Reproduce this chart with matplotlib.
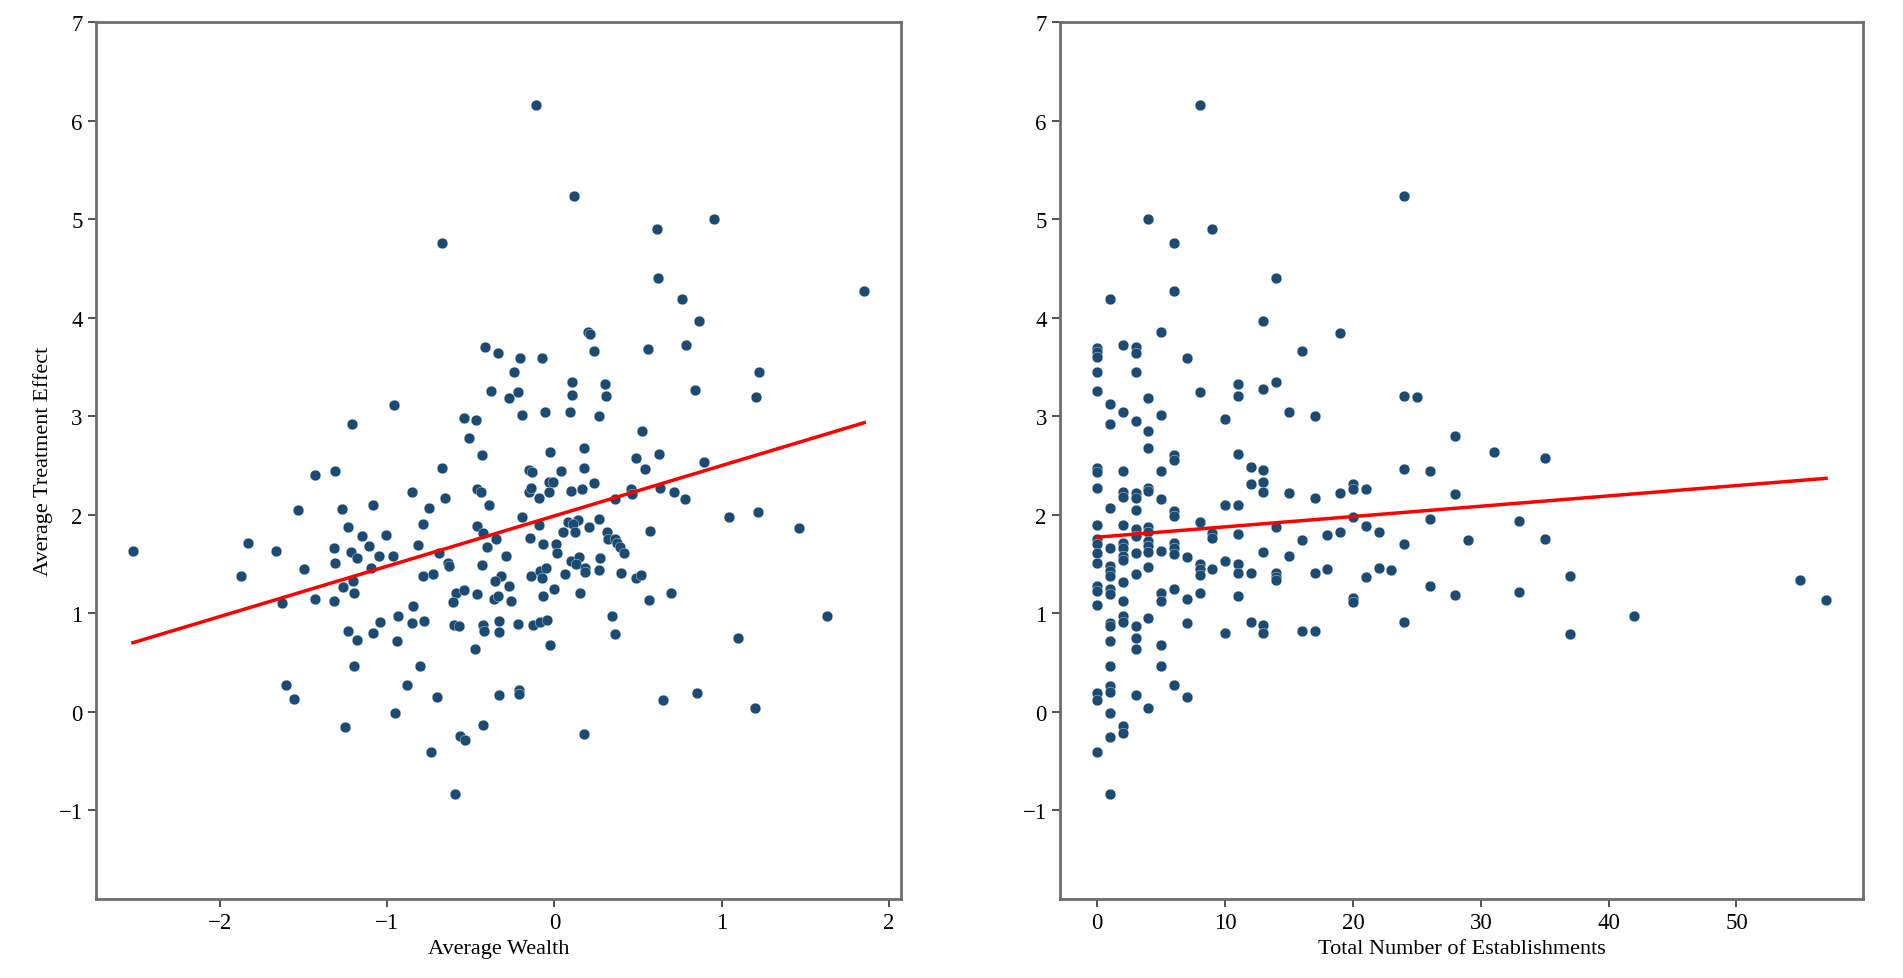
import numpy as np
import matplotlib
matplotlib.use("Agg")
import matplotlib.pyplot as plt

plt.rcParams['font.family'] = ['Liberation Serif', 'DejaVu Serif']

# ---- left panel: average wealth vs ATE ----
wealth = [-0.672, -0.417, -0.337, -0.377, -0.269, -0.219, -0.956, -1.209, -0.540, -0.469,
          -0.508, -0.433, -0.113, 0.114, 0.611, 0.954, 0.619, 0.761, 0.861, 1.851,
          0.200, 0.215, 0.238, 0.559, 0.785, -0.207, -0.076, -0.239, 0.104, 0.104,
          0.302, 0.310, -0.191, -0.056, 0.090, 0.266, 0.837, 1.222, 1.206, 0.523,
          -0.026, 0.174, 0.487, 0.623, -0.150, -0.137, 0.040, 0.176, 0.539, 0.891,
          -0.034, -0.010, 0.236, -0.153, -0.139, -0.093, -0.034, 0.100, 0.164, 0.360,
          0.459, 0.465, 0.629, 0.717, 0.779, -0.193, -0.093, 0.080, 0.140, 0.110,
          0.050, 0.120, 0.206, 0.266, 0.569, 1.044, 1.214, 1.461, -0.149, -0.066,
          0.010, 0.014, 0.316, 0.320, 0.360, 0.374, 0.390, 0.416, -0.289, 0.100,
          0.146, 0.126, 0.180, 0.184, 0.270, 0.264, -0.319, -0.273, -0.259, -0.139,
          -0.089, -0.050, -0.074, 0.060, 0.000, -0.070, 0.154, 0.400, 0.489, 0.519,
          0.563, 0.699, -0.219, -0.129, -0.085, -0.044, -0.024, 0.344, 0.364, 1.631,
          1.094, -0.213, -0.213, 0.649, 0.849, 1.198, 0.178,
          -1.433, -1.309, -0.672, -0.656, -0.852, -0.465, -0.439, -0.389, -1.530, -1.269,
          -1.085, -0.748, -0.788, -1.235, -1.832, -1.666, -1.153, -1.008, -1.111, -1.317,
          -0.818, -0.465, -0.429, -0.349, -0.403, -1.213, -1.177, -1.047, -0.964, -0.688,
          -1.313, -1.097, -1.497, -1.876, -0.638, -0.628, -0.433, -0.788, -0.728, -0.353,
          -1.263, -1.203, -1.197, -1.626, -1.433, -1.317, -0.588, -0.539, -0.608, -0.463,
          -0.359, -0.339, -0.844, -0.932, -1.043, -0.852, -0.778, -1.235, -1.177, -1.083,
          -0.938, -0.598, -0.568, -0.429, -0.419, -0.329, -0.329, -0.475, -1.197, -0.804,
          -1.606, -1.556, -0.882, -0.704, -0.329, -0.950, -1.249, -0.429, -0.562, -0.533,
          -0.738, -0.592, -2.519]
ate_wealth = [4.76, 3.70, 3.64, 3.26, 3.18, 3.25, 3.11, 2.92, 2.98, 2.96,
              2.78, 2.61, 6.16, 5.23, 4.90, 5.00, 4.40, 4.19, 3.97, 4.27,
              3.85, 3.83, 3.66, 3.68, 3.72, 3.59, 3.59, 3.45, 3.35, 3.21,
              3.33, 3.20, 3.01, 3.04, 3.04, 3.00, 3.27, 3.45, 3.19, 2.85,
              2.64, 2.68, 2.58, 2.62, 2.45, 2.43, 2.44, 2.47, 2.46, 2.53,
              2.33, 2.33, 2.32, 2.23, 2.27, 2.17, 2.23, 2.24, 2.26, 2.16,
              2.26, 2.21, 2.27, 2.23, 2.16, 1.98, 1.90, 1.93, 1.95, 1.91,
              1.82, 1.82, 1.88, 1.96, 1.83, 1.98, 2.03, 1.86, 1.76, 1.705,
              1.705, 1.61, 1.82, 1.755, 1.75, 1.71, 1.675, 1.61, 1.58, 1.53,
              1.57, 1.50, 1.46, 1.42, 1.56, 1.44, 1.376, 1.275, 1.12, 1.376,
              1.427, 1.46, 1.36, 1.40, 1.25, 1.17, 1.21, 1.41, 1.36, 1.39,
              1.13, 1.21, 0.892, 0.885, 0.91, 0.93, 0.675, 0.973, 0.787, 0.976,
              0.753, 0.225, 0.18, 0.116, 0.19, 0.038, -0.226,
              2.40, 2.44, 2.47, 2.165, 2.23, 2.257, 2.233, 2.10, 2.05, 2.06,
              2.10, 2.07, 1.91, 1.88, 1.715, 1.63, 1.78, 1.79, 1.68, 1.664,
              1.695, 1.884, 1.816, 1.75, 1.67, 1.62, 1.56, 1.58, 1.58, 1.61,
              1.505, 1.46, 1.444, 1.376, 1.51, 1.48, 1.485, 1.376, 1.403, 1.325,
              1.27, 1.325, 1.21, 1.105, 1.14, 1.12, 1.207, 1.24, 1.11, 1.20,
              1.145, 1.17, 1.07, 0.97, 0.91, 0.90, 0.92, 0.817, 0.726, 0.80,
              0.715, 0.88, 0.87, 0.885, 0.817, 0.92, 0.81, 0.641, 0.468, 0.468,
              0.268, 0.13, 0.272, 0.15, 0.17, -0.013, -0.158, -0.135, -0.25, -0.29,
              -0.409, -0.836, 1.63]
fit_wealth = (0.511, 1.988)   # slope, intercept

# ---- right panel: establishments vs ATE ----
estab = [8, 24, 4, 9, 6, 14, 6, 1, 13, 19, 5, 16, 0, 0, 0, 2, 3, 3, 7, 0,
         3, 0, 4, 8, 11, 11, 13, 14, 24, 25, 1, 2, 1, 3, 5, 10, 15, 17, 4, 28,
         4, 6, 6, 11, 0, 0, 2, 5, 12, 13, 24, 26, 0, 2, 2, 3, 3, 3, 4, 4,
         5, 12, 13, 13, 15, 17, 19, 20, 20, 21, 28, 1, 6, 6, 10, 11, 0, 2, 3, 3,
         4, 4, 8, 9, 9, 11, 14, 20, 21, 22, 26, 16, 18, 19, 24, 29, 0, 0, 0, 1,
         2, 2, 2, 2, 3, 4, 4, 4, 5, 6, 6, 6, 7, 13, 15, 0, 1, 1, 1, 2,
         3, 4, 8, 8, 8, 9, 10, 11, 11, 12, 14, 14, 14, 17, 18, 21, 22, 23, 26, 28,
         0, 0, 0, 1, 1, 2, 5, 5, 6, 7, 8, 11, 20, 20, 1, 1, 2, 2, 3, 4,
         7, 10, 12, 13, 13, 16, 17, 24, 1, 3, 3, 5, 1, 5, 6, 0, 0, 1, 1, 3,
         7, 1, 4, 2, 2, 1, 0, 1,
         31, 35, 33, 35, 37, 33, 42, 37, 55, 57]
ate_estab = [6.16, 5.23, 5.00, 4.90, 4.76, 4.40, 4.27, 4.19, 3.97, 3.84, 3.85, 3.66, 3.69, 3.65, 3.60, 3.72, 3.70, 3.64, 3.59, 3.45,
             3.45, 3.26, 3.185, 3.25, 3.33, 3.20, 3.28, 3.35, 3.20, 3.19, 3.12, 3.04, 2.925, 2.955, 3.01, 2.975, 3.04, 3.00, 2.85, 2.795,
             2.68, 2.61, 2.555, 2.62, 2.477, 2.43, 2.44, 2.44, 2.48, 2.45, 2.46, 2.44, 2.27, 2.23, 2.18, 2.22, 2.17, 2.05, 2.27, 2.24,
             2.155, 2.31, 2.33, 2.23, 2.22, 2.165, 2.22, 2.31, 2.26, 2.257, 2.21, 2.064, 2.037, 1.99, 2.095, 2.095, 1.90, 1.90, 1.857, 1.78,
             1.88, 1.82, 1.925, 1.81, 1.76, 1.80, 1.88, 1.975, 1.89, 1.82, 1.96, 1.74, 1.79, 1.82, 1.70, 1.74, 1.75, 1.70, 1.61, 1.664,
             1.715, 1.664, 1.58, 1.54, 1.607, 1.73, 1.68, 1.62, 1.63, 1.71, 1.664, 1.60, 1.57, 1.62, 1.58, 1.51, 1.48, 1.427, 1.376, 1.32,
             1.40, 1.47, 1.495, 1.444, 1.393, 1.444, 1.53, 1.495, 1.41, 1.41, 1.41, 1.37, 1.335, 1.41, 1.444, 1.37, 1.46, 1.437, 1.275, 1.18,
             1.275, 1.224, 1.088, 1.247, 1.20, 1.12, 1.207, 1.12, 1.247, 1.14, 1.21, 1.17, 1.156, 1.11, 0.902, 0.87, 0.97, 0.91, 0.87, 0.953,
             0.902, 0.80, 0.915, 0.885, 0.80, 0.817, 0.817, 0.915, 0.72, 0.75, 0.64, 0.675, 0.468, 0.468, 0.272, 0.19, 0.123, 0.258, 0.197, 0.167,
             0.15, -0.013, 0.038, -0.14, -0.22, -0.26, -0.41, -0.836,
             2.64, 2.58, 1.94, 1.75, 1.376, 1.217, 0.97, 0.787, 1.34, 1.13]
fit_estab = (0.01047, 1.772)

dot_color = '#1b4a72'
spine_color = '#6e6e6e'

fig = plt.figure(figsize=(19.03, 9.79), dpi=100)
ax1 = fig.add_axes([0.0504, 0.0807, 0.4230, 0.8958])
ax2 = fig.add_axes([0.5570, 0.0807, 0.4220, 0.8958])

panels = [(ax1, wealth, ate_wealth, fit_wealth, 'Average Wealth'),
          (ax2, estab, ate_estab, fit_estab, 'Total Number of Establishments')]

for ax, xs, ys, fit, xlabel in panels:
    xs = np.array(xs, dtype=float)
    ys = np.array(ys, dtype=float)
    ax.scatter(xs, ys, s=60, color=dot_color, edgecolors='white', linewidths=0.25, zorder=2)
    xl = np.array([xs.min(), xs.max()])
    ax.plot(xl, fit[0] * xl + fit[1], color='red', lw=2.5, zorder=3)
    ax.set_ylim(-1.9, 7)
    ax.set_xlabel(xlabel, fontsize=16)
    ax.tick_params(labelsize=16.5, length=6, width=1.2, color='#333333')
    for sp in ax.spines.values():
        sp.set_color(spine_color)
        sp.set_linewidth(2)

ax1.set_xlim(-2.74, 2.07)
ax2.set_xlim(-2.92, 59.9)
ax1.set_ylabel('Average Treatment Effect', fontsize=16)

plt.savefig('out.png', dpi=100)
